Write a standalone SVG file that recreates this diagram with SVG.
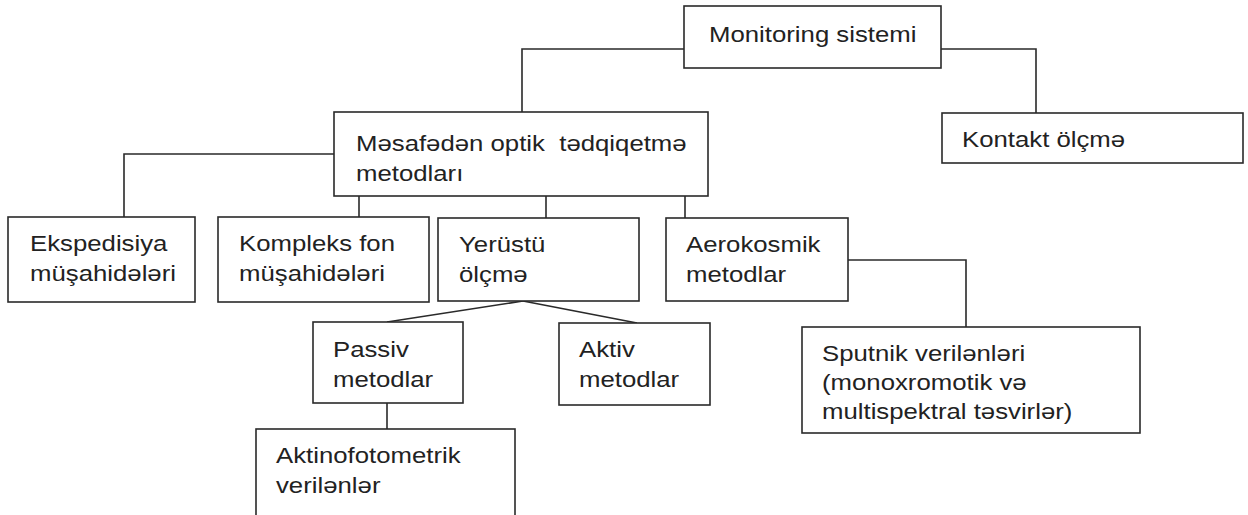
<svg xmlns="http://www.w3.org/2000/svg" width="1248" height="515" viewBox="0 0 1248 515">
<style>
.box{fill:#ffffff;stroke:#2a2a2a;stroke-width:1.6}
.con{fill:none;stroke:#2a2a2a;stroke-width:1.6}
.t{font-family:"Liberation Sans",Arial,sans-serif;font-size:23px;fill:#222222}
</style>
<rect width="1248" height="515" fill="#ffffff"/>
<g id="connectors">
<polyline class="con" points="684,49 522,49 522,112"/>
<polyline class="con" points="941,49 1036,49 1036,113"/>
<polyline class="con" points="334,154 124,154 124,217"/>
<line class="con" x1="359" y1="196" x2="359" y2="217"/>
<line class="con" x1="546" y1="196" x2="546" y2="218"/>
<line class="con" x1="685" y1="196" x2="685" y2="218"/>
<polyline class="con" points="848,260 966,260 966,327"/>
<line class="con" x1="523" y1="301" x2="387" y2="322"/>
<line class="con" x1="523" y1="301" x2="637" y2="323"/>
<line class="con" x1="387" y1="403" x2="387" y2="429"/>
</g>
<g id="monitoring">
<rect class="box" x="684" y="6" width="257" height="62"/>
<text class="t" transform="translate(709 42) scale(1.12 1)">Monitoring sistemi</text>
</g>
<g id="kontakt">
<rect class="box" x="942" y="113" width="301" height="50"/>
<text class="t" transform="translate(962 147) scale(1.12 1)">Kontakt ölçmə</text>
</g>
<g id="mesafeden">
<rect class="box" x="334" y="112" width="374" height="84"/>
<text class="t" transform="translate(356 151) scale(1.12 1)" xml:space="preserve">Məsafədən optik  tədqiqetmə</text>
<text class="t" transform="translate(356 181) scale(1.12 1)">metodları</text>
</g>
<g id="ekspedisiya">
<rect class="box" x="8" y="217" width="187" height="85"/>
<text class="t" transform="translate(30 251) scale(1.12 1)">Ekspedisiya</text>
<text class="t" transform="translate(30 281) scale(1.12 1)">müşahidələri</text>
</g>
<g id="kompleks">
<rect class="box" x="218" y="217" width="211" height="85"/>
<text class="t" transform="translate(239 251) scale(1.12 1)">Kompleks fon</text>
<text class="t" transform="translate(239 281) scale(1.12 1)">müşahidələri</text>
</g>
<g id="yerustu">
<rect class="box" x="438" y="218" width="201" height="83"/>
<text class="t" transform="translate(459 252) scale(1.12 1)">Yerüstü</text>
<text class="t" transform="translate(459 282) scale(1.12 1)">ölçmə</text>
</g>
<g id="aerokosmik">
<rect class="box" x="666" y="218" width="182" height="83"/>
<text class="t" transform="translate(686 252) scale(1.12 1)">Aerokosmik</text>
<text class="t" transform="translate(686 282) scale(1.12 1)">metodlar</text>
</g>
<g id="passiv">
<rect class="box" x="313" y="322" width="150" height="81"/>
<text class="t" transform="translate(333 357) scale(1.12 1)">Passiv</text>
<text class="t" transform="translate(333 387) scale(1.12 1)">metodlar</text>
</g>
<g id="aktiv">
<rect class="box" x="559" y="323" width="151" height="82"/>
<text class="t" transform="translate(579 357) scale(1.12 1)">Aktiv</text>
<text class="t" transform="translate(579 387) scale(1.12 1)">metodlar</text>
</g>
<g id="aktinofotometrik">
<rect class="box" x="256" y="429" width="259" height="100"/>
<text class="t" transform="translate(276 463) scale(1.12 1)">Aktinofotometrik</text>
<text class="t" transform="translate(276 493) scale(1.12 1)">verilənlər</text>
</g>
<g id="sputnik">
<rect class="box" x="802" y="327" width="338" height="106"/>
<text class="t" transform="translate(822 361) scale(1.12 1)">Sputnik verilənləri</text>
<text class="t" transform="translate(822 390) scale(1.12 1)">(monoxromotik və</text>
<text class="t" transform="translate(822 419) scale(1.12 1)">multispektral təsvirlər)</text>
</g>
</svg>
